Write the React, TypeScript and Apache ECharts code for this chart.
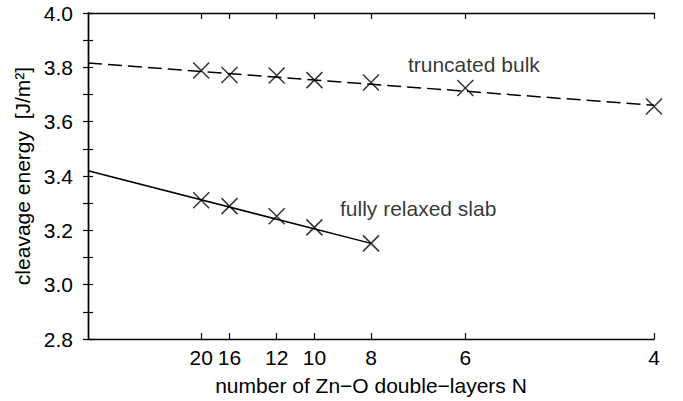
import React, { useEffect, useRef } from "react";
import * as echarts from "echarts";

// Number of Zn–O double-layers N (x axis is plotted as 1/N)
const tickN = [20, 16, 12, 10, 8, 6, 4];
const bulkN = [20, 16, 12, 10, 8, 6, 4];
const bulkEnergy = [3.788, 3.772, 3.77, 3.753, 3.744, 3.724, 3.656];
const slabN = [20, 16, 12, 10, 8];
const slabEnergy = [3.311, 3.289, 3.252, 3.211, 3.152];
// Linear fits: [1/N, energy]
const bulkFitInvN = [0, 0.25];
const bulkFitEnergy = [3.816, 3.66];
const slabFitInvN = [0, 0.125];
const slabFitEnergy = [3.419, 3.152];
// Annotations: [1/N, energy, text]
const annotations: [number, number, string][] = [
  [0.1413, 3.81, "truncated bulk"],
  [0.1113, 3.279, "fully relaxed slab"],
];
const yMin = 2.8;
const yMax = 4.0;
const yStep = 0.2;

const FONT = "'Liberation Sans', Arial, Helvetica, sans-serif";
const FS = 21;
const CROSS = "path://M0,0L10,10M10,0L0,10";

export default function App() {
  const ref = useRef<HTMLDivElement>(null);
  useEffect(() => {
    document.body.style.margin = "0";
    if (!ref.current) return;
    const chart = echarts.init(ref.current, undefined, { renderer: "svg" });
    const tickVals = tickN.map((n) => 1 / n);
    const axisLine = { show: true, lineStyle: { color: "#000", width: 1.4 } };
    const tickStyle = { color: "#000", width: 1.2 };
    chart.setOption({
      animation: false,
      backgroundColor: "#fff",
      textStyle: { fontFamily: FONT },
      grid: { left: 88, right: 29, top: 13, bottom: 60, containLabel: false },
      xAxis: [
        {
          type: "value",
          position: "bottom",
          min: 0,
          max: 0.25,
          name: "number of Zn\u2212O double\u2212layers N",
          nameLocation: "middle",
          nameGap: 36,
          nameTextStyle: { fontFamily: FONT, fontSize: FS, color: "#000" },
          axisLine,
          splitLine: { show: false },
          axisTick: { show: true, inside: true, length: 6, lineStyle: tickStyle, customValues: tickVals },
          axisLabel: {
            show: true,
            customValues: tickVals,
            margin: 8,
            fontFamily: FONT,
            fontSize: FS,
            color: "#000",
            formatter: (v: number) => String(Math.round(1 / v)),
          },
        },
        {
          type: "value",
          position: "top",
          min: 0,
          max: 0.25,
          axisLine,
          splitLine: { show: false },
          axisTick: { show: true, inside: true, length: 6, lineStyle: tickStyle, customValues: tickVals },
          axisLabel: { show: false },
        },
      ],
      yAxis: [
        {
          type: "value",
          position: "left",
          min: yMin,
          max: yMax,
          interval: yStep,
          name: "cleavage energy  [J/m\u00B2]",
          nameLocation: "middle",
          nameGap: 55,
          nameTextStyle: { fontFamily: FONT, fontSize: FS, color: "#000" },
          axisLine,
          splitLine: { show: false },
          axisTick: { show: true, inside: true, length: 5, lineStyle: tickStyle },
          minorTick: { show: true, splitNumber: 2, length: 5, lineStyle: tickStyle },
          axisLabel: {
            margin: 15,
            fontFamily: FONT,
            fontSize: FS,
            color: "#000",
            formatter: (v: number) => v.toFixed(1),
          },
        },
        {
          type: "value",
          position: "right",
          min: yMin,
          max: yMax,
          interval: yStep,
          axisLine,
          splitLine: { show: false },
          axisTick: { show: true, inside: true, length: 5, lineStyle: tickStyle },
          minorTick: { show: true, splitNumber: 2, length: 5, lineStyle: tickStyle },
          axisLabel: { show: false },
        },
      ],
      series: [
        {
          type: "line",
          data: bulkFitInvN.map((x, i) => [x, bulkFitEnergy[i]]),
          symbol: "none",
          lineStyle: { color: "#000", width: 1.5, type: [14, 6] },
          silent: true,
        },
        {
          type: "line",
          data: slabFitInvN.map((x, i) => [x, slabFitEnergy[i]]),
          symbol: "none",
          lineStyle: { color: "#000", width: 1.5, type: "solid" },
          silent: true,
        },
        {
          type: "scatter",
          data: bulkN.map((n, i) => [1 / n, bulkEnergy[i]]),
          symbol: CROSS,
          symbolSize: 16,
          itemStyle: { color: "none", borderColor: "#000", borderWidth: 1.5 },
        },
        {
          type: "scatter",
          data: slabN.map((n, i) => [1 / n, slabEnergy[i]]),
          symbol: CROSS,
          symbolSize: 16,
          itemStyle: { color: "none", borderColor: "#000", borderWidth: 1.5 },
        },
        {
          type: "scatter",
          data: annotations.map(([x, y, t]) => ({ value: [x, y], name: t })),
          symbolSize: 0,
          itemStyle: { color: "none" },
          label: {
            show: true,
            position: "right",
            distance: 0,
            formatter: (p: any) => p.name,
            fontFamily: FONT,
            fontSize: FS,
            color: "#000",
          },
          silent: true,
        },
      ],
    });
    return () => chart.dispose();
  }, []);
  return <div ref={ref} style={{ width: 683, height: 401 }} />;
}
